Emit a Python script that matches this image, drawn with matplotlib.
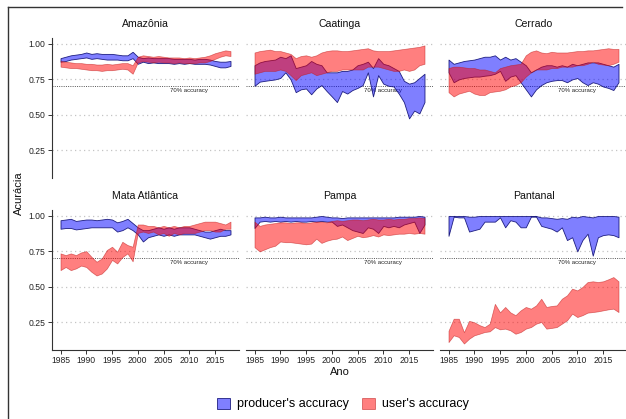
import matplotlib
matplotlib.use("Agg")
import matplotlib.pyplot as plt
from matplotlib.patches import Patch
from matplotlib.lines import Line2D

plt.rcParams['font.family'] = ['Liberation Sans', 'DejaVu Sans']

years = list(range(1985, 2019))
year_ticks = [1985, 1990, 1995, 2000, 2005, 2010, 2015]
acc_ticks = [0.25, 0.50, 0.75, 1.00]
acc_labels = ["0.25", "0.50", "0.75", "1.00"]
biomes = ["Amazônia", "Caatinga", "Cerrado", "Mata Atlântica", "Pampa", "Pantanal"]

# producer's / user's accuracy bands (lower and upper bound per year)
amazonia_prod_lo = [0.875, 0.88, 0.89, 0.895, 0.90, 0.905, 0.895, 0.90, 0.895, 0.89, 0.89, 0.89, 0.885, 0.885, 0.90,
                    0.86, 0.875, 0.865, 0.87, 0.865, 0.865, 0.865, 0.86, 0.865, 0.86, 0.865, 0.86, 0.86, 0.86, 0.855,
                    0.845, 0.835, 0.835, 0.845]
amazonia_prod_hi = [0.90, 0.91, 0.92, 0.925, 0.93, 0.94, 0.93, 0.935, 0.93, 0.93, 0.93, 0.925, 0.92, 0.92, 0.945,
                    0.91, 0.90, 0.905, 0.90, 0.90, 0.90, 0.90, 0.895, 0.895, 0.895, 0.895, 0.89, 0.895, 0.895, 0.89,
                    0.88, 0.875, 0.875, 0.88]
amazonia_user_lo = [0.84, 0.835, 0.83, 0.83, 0.825, 0.82, 0.815, 0.815, 0.81, 0.815, 0.815, 0.82, 0.825, 0.82, 0.79,
                    0.87, 0.88, 0.875, 0.87, 0.875, 0.87, 0.87, 0.865, 0.87, 0.865, 0.865, 0.865, 0.87, 0.87, 0.88,
                    0.895, 0.91, 0.92, 0.915]
amazonia_user_hi = [0.88, 0.875, 0.87, 0.865, 0.865, 0.86, 0.86, 0.855, 0.855, 0.86, 0.855, 0.86, 0.865, 0.865, 0.85,
                    0.91, 0.92, 0.915, 0.91, 0.915, 0.91, 0.905, 0.905, 0.905, 0.90, 0.905, 0.90, 0.905, 0.91, 0.92,
                    0.935, 0.945, 0.955, 0.95]

caatinga_prod_lo = [0.705, 0.734, 0.74, 0.745, 0.75, 0.76, 0.80, 0.75, 0.66, 0.68, 0.686, 0.645, 0.686, 0.71, 0.668,
                    0.63, 0.59, 0.668, 0.65, 0.675, 0.69, 0.71, 0.80, 0.63, 0.78, 0.72, 0.705, 0.70, 0.65, 0.59,
                    0.475, 0.53, 0.51, 0.59]
caatinga_prod_hi = [0.85, 0.87, 0.88, 0.885, 0.89, 0.91, 0.90, 0.92, 0.83, 0.84, 0.85, 0.88, 0.86, 0.85, 0.80,
                    0.80, 0.80, 0.81, 0.81, 0.82, 0.85, 0.86, 0.875, 0.83, 0.90, 0.86, 0.85, 0.83, 0.81, 0.74,
                    0.72, 0.73, 0.76, 0.79]
caatinga_user_lo = [0.79, 0.80, 0.81, 0.81, 0.81, 0.82, 0.81, 0.78, 0.745, 0.78, 0.79, 0.80, 0.78, 0.79, 0.80,
                    0.81, 0.81, 0.82, 0.82, 0.82, 0.82, 0.82, 0.84, 0.84, 0.84, 0.83, 0.82, 0.81, 0.81, 0.82,
                    0.81, 0.82, 0.85, 0.86]
caatinga_user_hi = [0.94, 0.95, 0.955, 0.96, 0.95, 0.95, 0.94, 0.93, 0.90, 0.915, 0.92, 0.91, 0.92, 0.94, 0.95,
                    0.955, 0.955, 0.95, 0.95, 0.955, 0.96, 0.965, 0.97, 0.955, 0.95, 0.95, 0.95, 0.955, 0.96, 0.965,
                    0.97, 0.975, 0.98, 0.99]

cerrado_prod_lo = [0.80, 0.73, 0.75, 0.76, 0.765, 0.77, 0.77, 0.776, 0.78, 0.79, 0.81, 0.74, 0.77, 0.78, 0.73,
                   0.68, 0.63, 0.68, 0.71, 0.73, 0.74, 0.745, 0.745, 0.73, 0.75, 0.76, 0.73, 0.71, 0.73, 0.72,
                   0.70, 0.69, 0.675, 0.73]
cerrado_prod_hi = [0.89, 0.86, 0.87, 0.88, 0.885, 0.89, 0.90, 0.91, 0.91, 0.92, 0.89, 0.91, 0.89, 0.90, 0.875,
                   0.85, 0.80, 0.82, 0.84, 0.85, 0.85, 0.84, 0.85, 0.84, 0.86, 0.85, 0.86, 0.87, 0.87, 0.87,
                   0.86, 0.85, 0.84, 0.86]
cerrado_user_lo = [0.66, 0.63, 0.65, 0.66, 0.67, 0.65, 0.64, 0.64, 0.66, 0.665, 0.67, 0.68, 0.70, 0.71, 0.73,
                   0.77, 0.80, 0.82, 0.82, 0.82, 0.83, 0.83, 0.84, 0.84, 0.84, 0.85, 0.85, 0.86, 0.875, 0.86,
                   0.855, 0.85, 0.86, 0.875]
cerrado_user_hi = [0.83, 0.84, 0.84, 0.835, 0.83, 0.83, 0.82, 0.82, 0.81, 0.80, 0.83, 0.84, 0.85, 0.855, 0.86,
                   0.92, 0.945, 0.955, 0.94, 0.935, 0.945, 0.94, 0.94, 0.94, 0.945, 0.95, 0.95, 0.955, 0.955, 0.96,
                   0.965, 0.97, 0.965, 0.965]

mata_prod_lo = [0.91, 0.915, 0.915, 0.905, 0.91, 0.915, 0.92, 0.92, 0.92, 0.92, 0.92, 0.89, 0.90, 0.92, 0.90,
                0.87, 0.82, 0.85, 0.86, 0.87, 0.86, 0.87, 0.86, 0.87, 0.87, 0.87, 0.87, 0.86, 0.85, 0.84,
                0.85, 0.86, 0.86, 0.87]
mata_prod_hi = [0.97, 0.975, 0.98, 0.965, 0.97, 0.975, 0.975, 0.97, 0.975, 0.98, 0.975, 0.955, 0.965, 0.98, 0.95,
                0.92, 0.90, 0.90, 0.91, 0.92, 0.91, 0.92, 0.91, 0.92, 0.92, 0.92, 0.91, 0.90, 0.89, 0.89,
                0.90, 0.91, 0.90, 0.90]
mata_user_lo = [0.618, 0.64, 0.618, 0.63, 0.65, 0.64, 0.606, 0.58, 0.594, 0.63, 0.69, 0.665, 0.71, 0.736, 0.68,
                0.88, 0.89, 0.88, 0.89, 0.87, 0.88, 0.86, 0.88, 0.87, 0.88, 0.88, 0.88, 0.89, 0.90, 0.90,
                0.89, 0.89, 0.91, 0.91]
mata_user_hi = [0.736, 0.724, 0.736, 0.724, 0.743, 0.752, 0.712, 0.677, 0.70, 0.76, 0.783, 0.748, 0.818, 0.795, 0.783,
                0.94, 0.94, 0.93, 0.93, 0.92, 0.93, 0.92, 0.93, 0.92, 0.93, 0.93, 0.94, 0.95, 0.96, 0.96,
                0.96, 0.95, 0.94, 0.96]

pampa_prod_lo = [0.915, 0.96, 0.965, 0.96, 0.965, 0.96, 0.965, 0.96, 0.965, 0.96, 0.96, 0.965, 0.96, 0.965, 0.96,
                 0.96, 0.93, 0.94, 0.92, 0.90, 0.89, 0.88, 0.92, 0.91, 0.88, 0.93, 0.92, 0.93, 0.92, 0.94,
                 0.95, 0.96, 0.88, 0.94]
pampa_prod_hi = [0.99, 0.99, 0.995, 0.99, 0.99, 0.995, 0.99, 0.99, 0.99, 0.99, 0.99, 0.99, 0.995, 1.0, 0.995,
                 0.99, 0.99, 0.985, 0.99, 0.99, 0.99, 0.99, 0.99, 0.99, 0.99, 0.99, 0.99, 0.99, 0.995, 0.995,
                 0.995, 0.995, 1.0, 0.995]
pampa_user_lo = [0.78, 0.75, 0.765, 0.78, 0.79, 0.82, 0.815, 0.815, 0.81, 0.805, 0.80, 0.805, 0.84, 0.81, 0.825,
                 0.835, 0.84, 0.855, 0.83, 0.845, 0.86, 0.85, 0.855, 0.865, 0.855, 0.87, 0.865, 0.87, 0.875, 0.875,
                 0.88, 0.875, 0.88, 0.875]
pampa_user_hi = [0.96, 0.93, 0.94, 0.945, 0.95, 0.955, 0.955, 0.95, 0.955, 0.955, 0.95, 0.955, 0.96, 0.96, 0.955,
                 0.965, 0.97, 0.965, 0.97, 0.975, 0.975, 0.97, 0.975, 0.98, 0.975, 0.975, 0.98, 0.975, 0.98, 0.98,
                 0.985, 0.985, 0.99, 0.985]

pantanal_prod_lo = [0.86, 0.995, 0.99, 0.99, 0.89, 0.90, 0.91, 0.96, 0.96, 0.96, 0.99, 0.92, 0.97, 0.96, 0.92,
                    0.92, 0.995, 0.995, 0.93, 0.92, 0.91, 0.89, 0.92, 0.83, 0.85, 0.75, 0.83, 0.875, 0.72, 0.85,
                    0.865, 0.87, 0.865, 0.85]
pantanal_prod_hi = [1.0, 1.0, 1.0, 1.0, 0.995, 0.995, 1.0, 1.0, 1.0, 1.0, 1.0, 1.0, 1.0, 1.0, 1.0,
                    1.0, 1.0, 1.0, 0.99, 0.99, 0.985, 0.98, 0.985, 0.98, 0.995, 0.99, 1.0, 0.995, 0.99, 1.0,
                    1.0, 1.0, 1.0, 0.995]
pantanal_user_lo = [0.11, 0.158, 0.146, 0.10, 0.134, 0.158, 0.169, 0.181, 0.186, 0.216, 0.20, 0.205, 0.193, 0.169, 0.181,
                    0.205, 0.216, 0.24, 0.252, 0.205, 0.21, 0.216, 0.24, 0.264, 0.311, 0.287, 0.30, 0.318, 0.322, 0.327,
                    0.334, 0.341, 0.346, 0.322]
pantanal_user_hi = [0.19, 0.275, 0.275, 0.18, 0.26, 0.25, 0.23, 0.216, 0.24, 0.38, 0.32, 0.358, 0.32, 0.30, 0.334,
                    0.358, 0.346, 0.369, 0.416, 0.358, 0.365, 0.369, 0.416, 0.44, 0.487, 0.475, 0.499, 0.534, 0.539, 0.534,
                    0.539, 0.553, 0.569, 0.539]

bands = {
    "Amazônia": (amazonia_prod_lo, amazonia_prod_hi, amazonia_user_lo, amazonia_user_hi),
    "Caatinga": (caatinga_prod_lo, caatinga_prod_hi, caatinga_user_lo, caatinga_user_hi),
    "Cerrado": (cerrado_prod_lo, cerrado_prod_hi, cerrado_user_lo, cerrado_user_hi),
    "Mata Atlântica": (mata_prod_lo, mata_prod_hi, mata_user_lo, mata_user_hi),
    "Pampa": (pampa_prod_lo, pampa_prod_hi, pampa_user_lo, pampa_user_hi),
    "Pantanal": (pantanal_prod_lo, pantanal_prod_hi, pantanal_user_lo, pantanal_user_hi),
}

BLUE_FILL = (0.0, 0.0, 1.0, 0.5)
BLUE_EDGE = (0.05, 0.05, 0.45, 0.9)
RED_FILL = (1.0, 0.0, 0.0, 0.5)
RED_EDGE = (0.75, 0.1, 0.1, 0.6)
AXIS_COL = "#333333"

W, H = 626, 419
fig = plt.figure(figsize=(W / 100, H / 100), dpi=100)

col_x = [52, 246, 440]
row_top = [37.6, 209.6]
pw, ph = 187, 140.3

all_vals = [v for b in bands.values() for s in b for v in s]
lo, hi = min(all_vals), max(all_vals)
pad = 0.05 * (hi - lo)
ylim = (lo - pad, hi + pad)
xpad = 0.05 * (years[-1] - years[0])
xlim = (years[0] - xpad, years[-1] + xpad)

for i, name in enumerate(biomes):
    r, c = divmod(i, 3)
    x0, y0 = col_x[c], row_top[r]
    ax = fig.add_axes([x0 / W, 1 - (y0 + ph) / H, pw / W, ph / H])
    ax.patch.set_alpha(0)
    plo, phi, ulo, uhi = bands[name]

    for v in acc_ticks:
        ax.axhline(v, color="#c4c4c4", lw=0.9, ls=(0, (1, 2.6)), zorder=0)
    ax.axhline(0.70, color="#555555", lw=0.7, ls=(0, (1, 1.3)), zorder=1)
    ax.text(2010, 0.672, "70% accuracy", fontsize=4.3, ha="center", va="center",
            color="#222222", zorder=1)

    ax.fill_between(years, plo, phi, facecolor=BLUE_FILL, edgecolor=BLUE_EDGE, lw=0.6, zorder=2)
    ax.fill_between(years, ulo, uhi, facecolor=RED_FILL, edgecolor=RED_EDGE, lw=0.5, zorder=3)

    ax.set_xlim(*xlim)
    ax.set_ylim(*ylim)

    for s in ax.spines.values():
        s.set_visible(False)
    ax.spines["left"].set_color(AXIS_COL)
    ax.spines["bottom"].set_color(AXIS_COL)
    ax.spines["left"].set_linewidth(0.8)
    ax.spines["bottom"].set_linewidth(0.8)

    ax.set_xticks(year_ticks)
    ax.set_xticklabels([str(y) for y in year_ticks])
    ax.set_yticks(acc_ticks)
    ax.set_yticklabels(acc_labels)
    ax.tick_params(length=3, width=0.7, color=AXIS_COL, labelsize=6.2,
                   labelcolor="#222222", pad=1.5)

    if c == 0:
        ax.spines["left"].set_visible(True)
    else:
        ax.tick_params(left=False, labelleft=False)
    if r == 1:
        ax.spines["bottom"].set_visible(True)
    else:
        ax.tick_params(bottom=False, labelbottom=False)

    ax.text(0.5, 1 + 13.6 / ph, name, transform=ax.transAxes, ha="center", va="center",
            fontsize=7.6, color="#111111")

fig.text(339.5 / W, 1 - 372 / H, "Ano", ha="center", va="center", fontsize=8, color="#111111")
fig.text(19 / W, 1 - 193.6 / H, "Acurácia", ha="center", va="center", rotation=90,
         fontsize=8, color="#111111")

handles = [Patch(facecolor=BLUE_FILL, edgecolor=BLUE_EDGE, lw=0.6, label="producer's accuracy"),
           Patch(facecolor=RED_FILL, edgecolor=RED_EDGE, lw=0.6, label="user's accuracy")]
fig.legend(handles=handles, loc="center", bbox_to_anchor=(343 / W, 1 - 404 / H), ncol=2,
           frameon=False, fontsize=9, handlelength=1.0, handleheight=1.0,
           handletextpad=0.55, columnspacing=1.1, borderpad=0)

# figure frame
fig.add_artist(Line2D([8 / W, 622 / W], [1 - 7 / H, 1 - 7 / H], color="#333333", lw=1.0))
fig.add_artist(Line2D([8 / W, 8 / W], [1 - 7 / H, 0], color="#333333", lw=1.0))

fig.savefig("out.png", dpi=100)
